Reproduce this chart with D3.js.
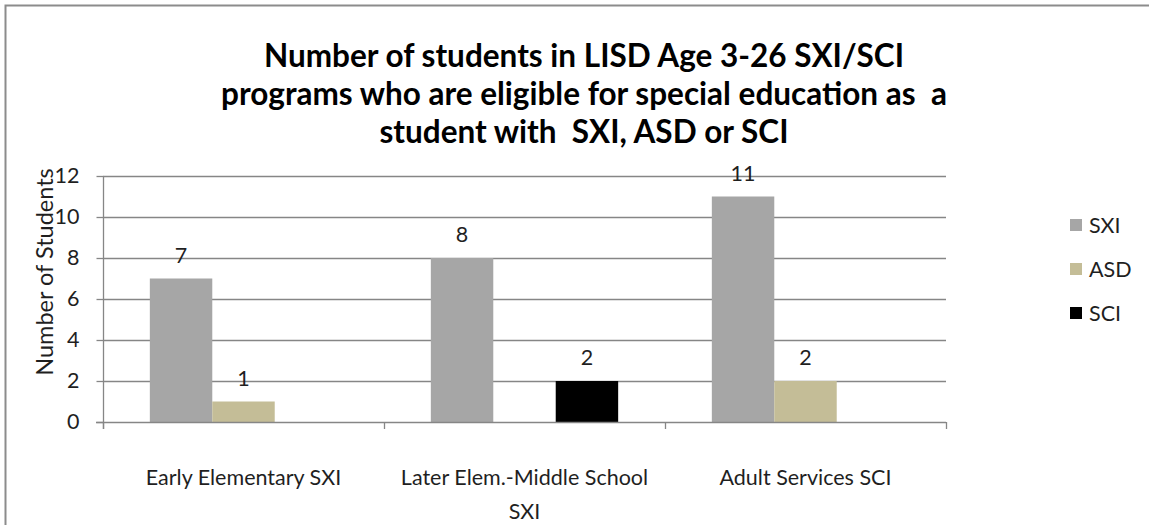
<!DOCTYPE html>
<html>
<head>
<meta charset="utf-8">
<script src="https://cdn.jsdelivr.net/npm/d3@7/dist/d3.min.js"></script>
<style>
  html, body { margin: 0; padding: 0; background: #ffffff; }
  svg { display: block; }
  text { font-family: "Lato", "Open Sans", sans-serif; fill: #1f1f1f; white-space: pre; }
</style>
</head>
<body>
<svg id="chart" width="1149" height="525"></svg>
<script>
// Students per program, by eligibility category
const categories = ["Early Elementary SXI", "Later Elem.-Middle School SXI", "Adult Services SCI"];
const seriesNames = ["SXI", "ASD", "SCI"];
const sxiValues = [7, 8, 11];
const asdValues = [1, null, 2];
const sciValues = [null, 2, null];
const yTicks = [0, 2, 4, 6, 8, 10, 12];
const titleLines = [
  "Number of students in LISD Age 3-26 SXI/SCI",
  "programs who are eligible for special education as  a",
  "student with  SXI, ASD or SCI"
];
const yAxisTitle = "Number of Students";

const seriesColors = { SXI: "#a6a6a6", ASD: "#c4bd97", SCI: "#000000" };
const seriesValues = { SXI: sxiValues, ASD: asdValues, SCI: sciValues };

const svg = d3.select("#chart");
const W = 1149, H = 525;
const plot = { left: 103, right: 946, top: 176, bottom: 422 };
const gridColor = "#868686";
const fs = 21.5;

// outer chart frame
svg.append("path")
  .attr("d", `M5.5,${H + 2} V5.5 H${W + 2}`)
  .attr("fill", "none")
  .attr("stroke", "#8c8c8c")
  .attr("stroke-width", 2);

// title
const title = svg.append("text")
  .attr("text-anchor", "middle")
  .attr("font-weight", "bold")
  .attr("font-size", 31.5)
  .style("fill", "#000");
title.selectAll("tspan").data(titleLines).join("tspan")
  .attr("x", 584)
  .attr("y", (d, i) => 67 + i * 38)
  .text(d => d);

// scales
const x0 = d3.scaleBand().domain(categories).range([plot.left, plot.right]).padding(0);
const x1 = d3.scaleBand().domain(seriesNames).range([0, x0.bandwidth()])
  .paddingInner(0).paddingOuter(0.75);
const y = d3.scaleLinear().domain([0, 12]).range([plot.bottom, plot.top]);

// horizontal gridlines
svg.append("g").selectAll("line").data(yTicks.filter(t => t > 0)).join("line")
  .attr("x1", plot.left).attr("x2", plot.right)
  .attr("y1", d => Math.round(y(d)) + 0.5).attr("y2", d => Math.round(y(d)) + 0.5)
  .attr("stroke", gridColor).attr("stroke-width", 1.3);

// bars
const rows = [];
categories.forEach((c, ci) => {
  seriesNames.forEach(s => {
    const v = seriesValues[s][ci];
    if (v != null) rows.push({ cat: c, series: s, value: v });
  });
});

svg.append("g").selectAll("rect").data(rows).join("rect")
  .attr("x", d => x0(d.cat) + x1(d.series))
  .attr("width", x1.bandwidth())
  .attr("y", d => y(d.value))
  .attr("height", d => y(0) - y(d.value))
  .attr("fill", d => seriesColors[d.series]);

// value labels
svg.append("g").selectAll("text").data(rows).join("text")
  .attr("x", d => x0(d.cat) + x1(d.series) + x1.bandwidth() / 2)
  .attr("y", d => y(d.value) - 16)
  .attr("text-anchor", "middle")
  .attr("font-size", fs)
  .text(d => d.value);

// y axis
const yAxis = svg.append("g")
  .attr("transform", `translate(${plot.left + 0.5},0)`)
  .call(d3.axisLeft(y).tickValues(yTicks).tickSize(7).tickPadding(17).tickSizeOuter(0));
yAxis.select(".domain").attr("stroke", gridColor).attr("stroke-width", 1.3)
  .attr("d", `M0,${plot.top}V${plot.bottom + 7}`);
yAxis.selectAll(".tick line").attr("stroke", gridColor).attr("stroke-width", 1.3);
yAxis.selectAll(".tick text")
  .attr("font-size", fs)
  .attr("font-family", null)
  .style("fill", "#1f1f1f");

// x axis baseline and category boundary ticks
svg.append("line")
  .attr("x1", plot.left - 7).attr("x2", plot.right)
  .attr("y1", plot.bottom + 0.5).attr("y2", plot.bottom + 0.5)
  .attr("stroke", gridColor).attr("stroke-width", 1.3);
const bounds = categories.map(c => x0(c)).concat([x0.range()[1]]);
svg.append("g").selectAll("line").data(bounds).join("line")
  .attr("x1", d => Math.round(d) + 0.5).attr("x2", d => Math.round(d) + 0.5)
  .attr("y1", plot.bottom).attr("y2", plot.bottom + 7)
  .attr("stroke", gridColor).attr("stroke-width", 1.3);

// category labels, wrapped to the band width
const catG = svg.append("g");
categories.forEach(c => {
  const t = catG.append("text")
    .attr("text-anchor", "middle")
    .attr("font-size", fs);
  const words = c.split(" ");
  let line = [];
  const lines = [];
  const probe = t.append("tspan");
  words.forEach(w => {
    const test = line.concat([w]).join(" ");
    probe.text(test);
    if (probe.node().getComputedTextLength() > x0.bandwidth() - 10 && line.length) {
      lines.push(line.join(" "));
      line = [w];
    } else {
      line.push(w);
    }
  });
  lines.push(line.join(" "));
  probe.remove();
  t.selectAll("tspan").data(lines).join("tspan")
    .attr("x", x0(c) + x0.bandwidth() / 2)
    .attr("y", (d, i) => 485 + i * 34)
    .text(d => d);
});

// y axis title
svg.append("text")
  .attr("transform", "translate(53,272) rotate(-90)")
  .attr("text-anchor", "middle")
  .attr("font-size", 23.5)
  .text(yAxisTitle);

// legend
const legend = svg.append("g");
seriesNames.forEach((s, i) => {
  const cy = 225 + i * 44;
  legend.append("rect")
    .attr("x", 1070).attr("y", cy - 6)
    .attr("width", 12).attr("height", 12)
    .attr("fill", seriesColors[s]);
  legend.append("text")
    .attr("x", 1089).attr("y", cy + 8)
    .attr("font-size", fs)
    .text(s);
});
</script>
</body>
</html>
